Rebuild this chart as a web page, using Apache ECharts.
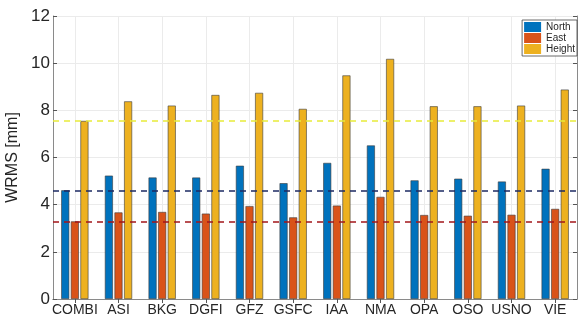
<!DOCTYPE html>
<html><head><meta charset="utf-8">
<script src="https://cdn.jsdelivr.net/npm/echarts@6/dist/echarts.min.js"></script>
<style>html,body{margin:0;padding:0;background:#fff}#c{width:585px;height:320px}</style>
</head><body><div id="c"></div>
<script>
const categories = ['COMBI','ASI','BKG','DGFI','GFZ','GSFC','IAA','NMA','OPA','OSO','USNO','VIE'];
const north  = [4.61,5.23,5.15,5.15,5.65,4.91,5.77,6.51,5.03,5.10,4.98,5.52];
const east   = [3.29,3.67,3.69,3.62,3.94,3.46,3.96,4.33,3.56,3.53,3.57,3.82];
const height = [7.55,8.38,8.20,8.65,8.74,8.06,9.48,10.18,8.17,8.17,8.20,8.88];
const refNorth = 4.60, refEast = 3.28, refHeight = 7.57;
const yTicks = [0,2,4,6,8,10,12];

const chart = echarts.init(document.getElementById('c'));
const txt = '#262626', axc = '#8a8a8a', gridc = '#ebebeb', ff = 'Liberation Sans';
function bar(name, data, color, ref, refColor){
  return {
    name, type:'bar', data, barWidth:8, barGap:'20%', z:3,
    itemStyle:{color, borderColor:'#3a3a3a', borderWidth:0.6},
    markLine:{silent:true, symbol:'none', label:{show:false}, z:5,
      lineStyle:{type:[6,5], color:refColor, width:1.6},
      data:[{yAxis:ref}]}
  };
}
chart.setOption({
  animation:false,
  grid:{left:53, right:8, top:16, bottom:21, outerBoundsMode:'none', containLabel:false},
  legend:{orient:'vertical', right:8, top:20, itemWidth:17, itemHeight:10, itemGap:1,
    textStyle:{fontSize:10, color:txt, fontFamily:ff}, borderColor:'#444', borderWidth:0.8,
    padding:[2,2,2,2], backgroundColor:'#fff', icon:'rect', itemStyle:{borderWidth:0},
    data:['North','East','Height']},
  xAxis:[{type:'category', data:categories,
    axisLine:{lineStyle:{color:axc}}, axisTick:{show:false},
    axisLabel:{fontSize:14, color:txt, fontFamily:ff, margin:4, interval:0},
    splitLine:{show:false}},
    {type:'category', position:'top', data:categories, axisLine:{lineStyle:{color:axc}},
     axisTick:{show:true, inside:true, alignWithLabel:true, interval:0, length:4, lineStyle:{color:'#555'}}, axisLabel:{show:false}}],
  yAxis:[{type:'value', min:0, max:12, interval:2,
    name:'WRMS [mm]', nameLocation:'middle', nameGap:16,
    nameTextStyle:{fontSize:16, color:txt, fontFamily:ff},
    axisLine:{show:true, lineStyle:{color:axc}}, axisTick:{show:true, inside:true, length:4, lineStyle:{color:'#555'}},
    axisLabel:{fontSize:17, color:txt, fontFamily:ff, margin:3,
      formatter:v=>yTicks.includes(v)?String(v):''},
    splitLine:{show:true, lineStyle:{color:gridc}}},
    {type:'value', min:0, max:12, interval:2, position:'right',
     axisLine:{show:true, lineStyle:{color:axc}}, axisTick:{show:true, inside:true, length:4, lineStyle:{color:'#555'}},
     axisLabel:{show:false}, splitLine:{show:false}}],
  series:[
    {type:'line', data:[], z:1, silent:true,
     markLine:{silent:true, symbol:'none', label:{show:false}, z:1,
       lineStyle:{type:'solid', color:gridc, width:1},
       data:categories.map(c=>({xAxis:c}))}},
    bar('North', north, '#0072BD', refNorth, '#1c2a63'),
    bar('East', east, '#D95319', refEast, '#a3161a'),
    bar('Height', height, '#EDB120', refHeight, '#e8ec3a')
  ]
});
</script></body></html>
